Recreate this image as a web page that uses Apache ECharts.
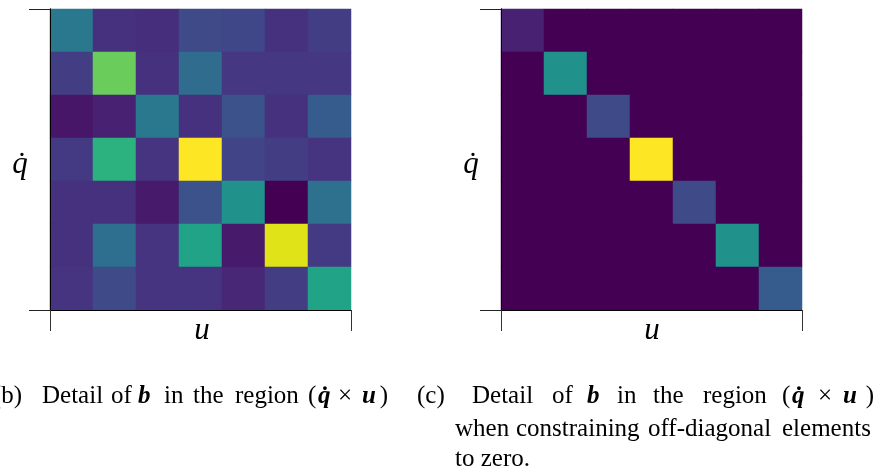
<!DOCTYPE html>
<html>
<head>
<meta charset="utf-8">
<script src="https://cdn.jsdelivr.net/npm/echarts@6/dist/echarts.min.js"></script>
<style>
html,body{margin:0;padding:0;background:#fff;}
#chart{width:877px;height:466px;}
</style>
</head>
<body>
<div id="chart"></div>
<script>
// categories (indices of u and q-dot components)
var uCategories = ['0','1','2','3','4','5','6'];
var qdotCategories = ['0','1','2','3','4','5','6'];
// tick labels (none shown in the reference)
var tickLabels = ['', ''];

// (b) full detail of b in region (q-dot x u), rows top to bottom
var fullRow0 = [0.40, 0.14, 0.13, 0.22, 0.21, 0.14, 0.18];
var fullRow1 = [0.18, 0.77, 0.14, 0.35, 0.16, 0.16, 0.16];
var fullRow2 = [0.06, 0.09, 0.40, 0.14, 0.25, 0.14, 0.29];
var fullRow3 = [0.17, 0.64, 0.15, 1.00, 0.20, 0.18, 0.15];
var fullRow4 = [0.14, 0.14, 0.07, 0.25, 0.50, 0.00, 0.37];
var fullRow5 = [0.14, 0.36, 0.15, 0.58, 0.07, 0.95, 0.17];
var fullRow6 = [0.15, 0.22, 0.15, 0.15, 0.11, 0.18, 0.58];

// (c) diagonal-constrained detail
var diagRow0 = [0.09, 0, 0, 0, 0, 0, 0];
var diagRow1 = [0, 0.50, 0, 0, 0, 0, 0];
var diagRow2 = [0, 0, 0.22, 0, 0, 0, 0];
var diagRow3 = [0, 0, 0, 1.00, 0, 0, 0];
var diagRow4 = [0, 0, 0, 0, 0.22, 0, 0];
var diagRow5 = [0, 0, 0, 0, 0, 0.50, 0];
var diagRow6 = [0, 0, 0, 0, 0, 0, 0.29];

var fullRows = [fullRow0, fullRow1, fullRow2, fullRow3, fullRow4, fullRow5, fullRow6];
var diagRows = [diagRow0, diagRow1, diagRow2, diagRow3, diagRow4, diagRow5, diagRow6];

function toData(rows) {
  var d = [];
  rows.forEach(function (row, r) {
    row.forEach(function (v, c) { d.push([c, r, v]); });
  });
  return d;
}

var viridis = ['#440154','#471365','#482475','#463480','#414487','#3b528b','#355f8d',
  '#2f6c8e','#2a788e','#25848e','#21918c','#1e9c89','#22a884','#2fb47c','#44bf70',
  '#5ec962','#7ad151','#9bd93c','#bddf26','#dfe318','#fde725'];

var grids = [
  {left: 50, top: 9, width: 301, height: 301},
  {left: 501, top: 9, width: 301, height: 301}
];

var xAxes = [], yAxes = [];
grids.forEach(function (g, i) {
  xAxes.push({type: 'category', gridIndex: i, data: uCategories, position: 'top', z: 10,
    axisLine: {show: true, lineStyle: {color: '#000', width: 1}},
    axisTick: {show: false}, axisLabel: {show: false}, splitLine: {show: false}});
  xAxes.push({type: 'value', gridIndex: i, position: 'bottom', min: 0, max: 7, interval: 7, z: 10,
    axisLine: {show: true, onZero: false, lineStyle: {color: '#000', width: 1}},
    axisTick: {show: true, length: 21, lineStyle: {color: '#333', width: 1}},
    axisLabel: {show: false, formatter: function () { return tickLabels[0]; }},
    splitLine: {show: false}});
  yAxes.push({type: 'category', gridIndex: i, data: qdotCategories, inverse: true, position: 'right', z: 10,
    axisLine: {show: true, lineStyle: {color: '#000', width: 1}},
    axisTick: {show: false}, axisLabel: {show: false}, splitLine: {show: false}});
  yAxes.push({type: 'value', gridIndex: i, position: 'left', min: 0, max: 7, interval: 7, z: 10,
    axisLine: {show: true, onZero: false, lineStyle: {color: '#000', width: 1}},
    axisTick: {show: true, length: 21, lineStyle: {color: '#222', width: 1}},
    axisLabel: {show: false, formatter: function () { return tickLabels[1]; }},
    splitLine: {show: false}});
});

var serif = '"Liberation Serif", "DejaVu Serif", serif';
var capFont = 25;
function word(x, y, t, opts) {
  opts = opts || {};
  return {type: 'text', x: x, y: y, silent: true,
    style: {text: t, x: 0, y: 0, fill: '#000',
      font: (opts.style || 'normal') + ' ' + (opts.weight || 'normal') + ' ' + (opts.size || capFont) + 'px ' + serif,
      textAlign: opts.align || 'left', textVerticalAlign: 'top'}};
}

var line1 = 384, line2 = 417, line3 = 447;
var graphics = [
  // axis names
  word(20, 149, 'q', {style: 'italic', size: 31, align: 'center'}),
  word(22, 150, '˙', {size: 31, align: 'center'}),
  word(202, 315, 'u', {style: 'italic', size: 31, align: 'center'}),
  word(471, 149, 'q', {style: 'italic', size: 31, align: 'center'}),
  word(473, 150, '˙', {size: 31, align: 'center'}),
  word(652, 315, 'u', {style: 'italic', size: 31, align: 'center'}),
  // caption (b)
  word(22, line1, '(b)', {align: 'right'}),
  word(42, line1, 'Detail'),
  word(111, line1, 'of'),
  word(138, line1, 'b', {style: 'italic', weight: 'bold'}),
  word(164, line1, 'in'),
  word(193, line1, 'the'),
  word(235, line1, 'region'),
  word(308, line1, '('),
  word(318, line1, 'q', {style: 'italic', weight: 'bold'}),
  word(325, line1 + 1, '˙', {weight: 'bold', align: 'center'}),
  word(338, line1, '×'),
  word(362, line1, 'u', {style: 'italic', weight: 'bold'}),
  word(388, line1, ')', {align: 'right'}),
  // caption (c)
  word(417, line1, '(c)'),
  word(472, line1, 'Detail'),
  word(552, line1, 'of'),
  word(587, line1, 'b', {style: 'italic', weight: 'bold'}),
  word(617, line1, 'in'),
  word(653, line1, 'the'),
  word(703, line1, 'region'),
  word(782, line1, '('),
  word(792, line1, 'q', {style: 'italic', weight: 'bold'}),
  word(799, line1 + 1, '˙', {weight: 'bold', align: 'center'}),
  word(818, line1, '×'),
  word(843, line1, 'u', {style: 'italic', weight: 'bold'}),
  word(874, line1, ')', {align: 'right'}),
  word(455, line2, 'when'),
  word(516, line2, 'constraining'),
  word(648, line2, 'off-diagonal'),
  word(782, line2, 'elements'),
  word(455, line3, 'to zero.')
];

var chart = echarts.init(document.getElementById('chart'), null, {renderer: 'canvas'});
chart.setOption({
  animation: false,
  backgroundColor: '#fff',
  grid: grids,
  xAxis: xAxes,
  yAxis: yAxes,
  visualMap: {type: 'continuous', show: false, min: 0, max: 1, seriesIndex: [0, 1],
    inRange: {color: viridis}},
  series: [
    {type: 'heatmap', xAxisIndex: 0, yAxisIndex: 0, data: toData(fullRows),
      itemStyle: {borderWidth: 0}, emphasis: {disabled: true}, progressive: 0},
    {type: 'heatmap', xAxisIndex: 2, yAxisIndex: 2, data: toData(diagRows),
      itemStyle: {borderWidth: 0}, emphasis: {disabled: true}, progressive: 0}
  ],
  graphic: graphics
});
</script>
</body>
</html>
